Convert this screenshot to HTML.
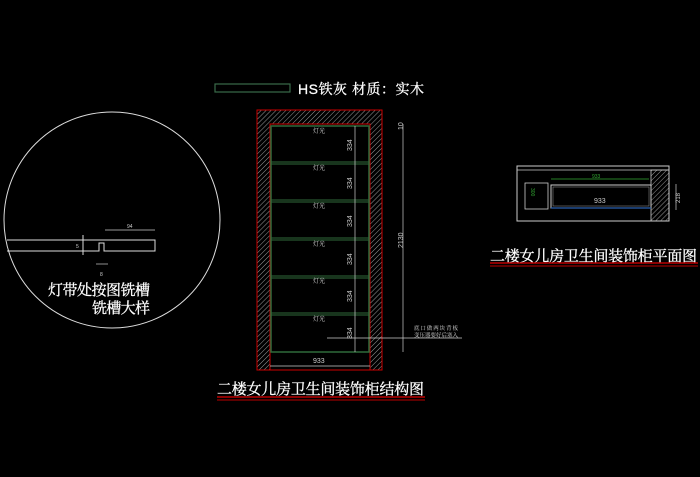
<!DOCTYPE html>
<html><head><meta charset="utf-8"><style>
html,body{margin:0;padding:0;background:#000;}
svg{display:block;}
text{font-family:"Liberation Sans","Noto Serif CJK SC",serif;}
</style></head><body>
<svg width="700" height="477" viewBox="0 0 700 477" xmlns="http://www.w3.org/2000/svg">
<defs>
<pattern id="h" width="3.5" height="3.5" patternUnits="userSpaceOnUse" patternTransform="rotate(45)">
<line x1="0" y1="0" x2="0" y2="3.5" stroke="#aaa" stroke-width="0.9"/>
</pattern>
</defs>
<rect width="700" height="477" fill="#000"/>

<!-- legend -->
<rect x="215" y="84" width="75" height="8" fill="none" stroke="#3a6a4a" stroke-width="1.2"/>
<text x="298" y="94" fill="#fff" font-size="14" textLength="126" stroke="#fff" stroke-width="0.3">HS铁灰 材质：实木</text>

<!-- circle detail -->
<circle cx="112" cy="220" r="108" fill="none" stroke="#ddd" stroke-width="1"/>
<path d="M7 240 H155 V251 H104 V243 H99 V251 H7" fill="none" stroke="#ddd" stroke-width="1"/>
<line x1="83" y1="235" x2="83" y2="255" stroke="#ddd"/>
<text x="76" y="248" fill="#ccc" font-size="5">5</text>
<line x1="105" y1="230" x2="155" y2="230" stroke="#ccc" stroke-width="0.7"/>
<text x="127" y="228" fill="#ccc" font-size="5">94</text>
<line x1="96" y1="264" x2="108" y2="264" stroke="#ccc" stroke-width="0.7"/>
<text x="100" y="276" fill="#ccc" font-size="5">8</text>
<text x="48" y="295" fill="#fff" font-size="15" textLength="102" stroke="#fff" stroke-width="0.3">灯带处按图铣槽</text>
<text x="92" y="313" fill="#fff" font-size="15" textLength="58" stroke="#fff" stroke-width="0.3">铣槽大样</text>

<!-- cabinet elevation -->
<path d="M257 110 H382 V370 H370 V124 H270 V370 H257 Z" fill="url(#h)"/>
<rect x="257" y="110" width="125" height="260" fill="none" stroke="#c00" stroke-width="1"/>
<path d="M270 370 V124 H370 V370" fill="none" stroke="#c00" stroke-width="1"/>
<rect x="271" y="126" width="98" height="226" fill="none" stroke="#2f6a3a" stroke-width="1.5"/>
<g stroke="#2f6a3a" stroke-width="1">
<line x1="271" y1="162" x2="369" y2="162"/><line x1="271" y1="164" x2="369" y2="164"/>
<line x1="271" y1="200" x2="369" y2="200"/><line x1="271" y1="202" x2="369" y2="202"/>
<line x1="271" y1="238" x2="369" y2="238"/><line x1="271" y1="240" x2="369" y2="240"/>
<line x1="271" y1="276" x2="369" y2="276"/><line x1="271" y1="278" x2="369" y2="278"/>
<line x1="271" y1="313" x2="369" y2="313"/><line x1="271" y1="315" x2="369" y2="315"/>
</g>
<g fill="#ddd" font-size="6">
<text x="313" y="133">灯光</text><text x="313" y="170">灯光</text><text x="313" y="208">灯光</text>
<text x="313" y="246">灯光</text><text x="313" y="283">灯光</text><text x="313" y="321">灯光</text>
</g>
<line x1="355" y1="126" x2="355" y2="352" stroke="#ccc" stroke-width="0.7"/>
<g fill="#ccc" font-size="7">
<text transform="translate(352,151) rotate(-90)">334</text>
<text transform="translate(352,189) rotate(-90)">334</text>
<text transform="translate(352,227) rotate(-90)">334</text>
<text transform="translate(352,265) rotate(-90)">334</text>
<text transform="translate(352,302) rotate(-90)">334</text>
<text transform="translate(352,339) rotate(-90)">334</text>
<text transform="translate(403,130) rotate(-90)">10</text>
<text transform="translate(403,248) rotate(-90)">2130</text>
<text x="313" y="363">933</text>
</g>
<line x1="403" y1="124" x2="403" y2="352" stroke="#ccc" stroke-width="0.7"/>
<line x1="270" y1="366" x2="370" y2="366" stroke="#ccc" stroke-width="0.7"/>
<line x1="327" y1="338" x2="462" y2="338" stroke="#ccc" stroke-width="0.7"/>
<text x="414" y="330" fill="#ddd" font-size="5.5" textLength="44">底口做两块背板</text>
<text x="414" y="337" fill="#ddd" font-size="5.5" textLength="44">变压器要好后塞入</text>

<text x="217" y="394" fill="#fff" font-size="15" textLength="207" stroke="#fff" stroke-width="0.3">二楼女儿房卫生间装饰柜结构图</text>
<line x1="217" y1="397" x2="425" y2="397" stroke="#b00" stroke-width="1.5"/>
<line x1="217" y1="400" x2="425" y2="400" stroke="#b00" stroke-width="1"/>

<!-- plan view -->
<rect x="517" y="166" width="152" height="55" fill="none" stroke="#ccc" stroke-width="1"/>
<line x1="517" y1="170" x2="669" y2="170" stroke="#ccc" stroke-width="0.8"/>
<rect x="651" y="170" width="18" height="51" fill="url(#h)" stroke="#ccc" stroke-width="0.8"/>
<rect x="525" y="183" width="23" height="26" fill="none" stroke="#ccc" stroke-width="0.8"/>
<text transform="translate(531,188) rotate(90)" fill="#3a3" font-size="5">300</text>
<rect x="551" y="185" width="100" height="23" fill="none" stroke="#ccc" stroke-width="1"/>
<rect x="553" y="187" width="96" height="19" fill="none" stroke="#888" stroke-width="0.6"/>
<line x1="551" y1="208" x2="651" y2="208" stroke="#2a5fb0" stroke-width="1.2"/>
<line x1="551" y1="179" x2="649" y2="179" stroke="#3a3" stroke-width="0.8"/>
<text x="592" y="178" fill="#3a3" font-size="5">933</text>
<text x="594" y="203" fill="#ccc" font-size="7">933</text>
<line x1="676" y1="184" x2="676" y2="210" stroke="#ccc" stroke-width="0.7"/>
<text transform="translate(680,203) rotate(-90)" fill="#ccc" font-size="6">218</text>

<text x="490" y="261" fill="#fff" font-size="15" textLength="207" stroke="#fff" stroke-width="0.3">二楼女儿房卫生间装饰柜平面图</text>
<line x1="490" y1="263" x2="698" y2="263" stroke="#b00" stroke-width="1.5"/>
<line x1="490" y1="266" x2="698" y2="266" stroke="#b00" stroke-width="1"/>
</svg>
</body></html>
